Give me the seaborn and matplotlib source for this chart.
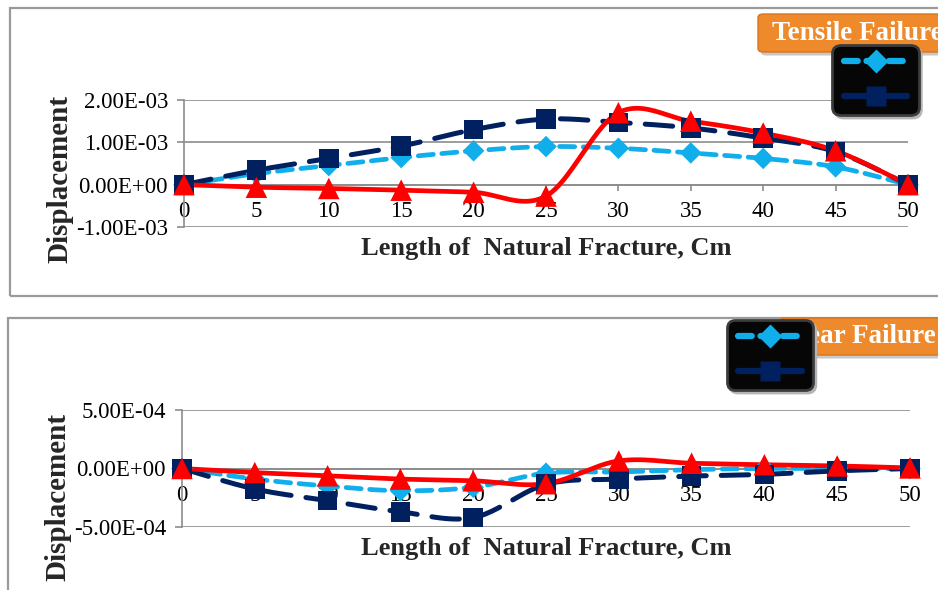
import numpy as np
import pandas as pd
import matplotlib
matplotlib.use("Agg")
import matplotlib.pyplot as plt
from matplotlib.patches import FancyBboxPatch, Rectangle
from matplotlib.lines import Line2D
from matplotlib.ticker import FuncFormatter, MultipleLocator
import seaborn as sns

# ---- data -------------------------------------------------------------
length_cm = [0, 5, 10, 15, 20, 25, 30, 35, 40, 45, 50]

# Tensile failure panel
tensile_a = [0.0, 0.26e-3, 0.45e-3, 0.64e-3, 0.80e-3, 0.90e-3, 0.86e-3, 0.75e-3, 0.62e-3, 0.42e-3, 0.0]
tensile_b = [0.0, 0.34e-3, 0.62e-3, 0.91e-3, 1.30e-3, 1.55e-3, 1.47e-3, 1.34e-3, 1.10e-3, 0.78e-3, 0.0]
tensile_c = [0.0, -0.06e-3, -0.09e-3, -0.13e-3, -0.18e-3, -0.27e-3, 1.70e-3, 1.50e-3, 1.22e-3, 0.80e-3, 0.0]

# Shear failure panel
shear_a = [0.0, -0.9e-4, -1.5e-4, -1.9e-4, -1.6e-4, -0.4e-4, -0.3e-4, -0.1e-4, 0.0, 0.0, 0.0]
shear_b = [0.0, -1.75e-4, -2.75e-4, -3.7e-4, -4.2e-4, -1.35e-4, -0.9e-4, -0.65e-4, -0.5e-4, -0.2e-4, 0.0]
shear_c = [0.0, -0.35e-4, -0.62e-4, -0.9e-4, -1.05e-4, -1.3e-4, 0.65e-4, 0.45e-4, 0.32e-4, 0.22e-4, 0.05e-4]

panel_titles = ["Tensile Failure", "Shear Failure"]
x_label = "Length of  Natural Fracture, Cm"
y_label = "Displacement"

LIGHT = "#10aeea"
NAVY = "#002060"
RED = "#ff0000"
GRID = "#8c8c8c"
SERIF = "Liberation Serif"

W, H = 938, 590
fig = plt.figure(figsize=(W / 100, H / 100), dpi=100)
sns.set_theme(style="white")
plt.rcParams["font.family"] = [SERIF, "DejaVu Serif"]


def px_rect(x0, y0, x1, y1):
    """figure-fraction rect from pixel box (top-left origin)."""
    return [x0 / W, 1 - y1 / H, (x1 - x0) / W, (y1 - y0) / H]


def smooth(x, y, n=24):
    """Catmull-Rom style smoothed path through the points (chart 'smoothed line')."""
    x = np.asarray(x, float)
    y = np.asarray(y, float)
    px, py = [], []
    for i in range(len(x) - 1):
        p0 = (x[i - 1], y[i - 1]) if i > 0 else (x[i], y[i])
        p1 = (x[i], y[i])
        p2 = (x[i + 1], y[i + 1])
        p3 = (x[i + 2], y[i + 2]) if i + 2 < len(x) else (x[i + 1], y[i + 1])
        c1 = (p1[0] + (p2[0] - p0[0]) / 6, p1[1] + (p2[1] - p0[1]) / 6)
        c2 = (p2[0] - (p3[0] - p1[0]) / 6, p2[1] - (p3[1] - p1[1]) / 6)
        t = np.linspace(0, 1, n, endpoint=(i == len(x) - 2))
        b0, b1, b2, b3 = (1 - t) ** 3, 3 * (1 - t) ** 2 * t, 3 * (1 - t) * t ** 2, t ** 3
        px.append(b0 * p1[0] + b1 * c1[0] + b2 * c2[0] + b3 * p2[0])
        py.append(b0 * p1[1] + b1 * c1[1] + b2 * c2[1] + b3 * p2[1])
    return np.concatenate(px), np.concatenate(py)


def panel_frame(x0, y0, x1, y1):
    fig.patches.append(Rectangle((x0 / W, 1 - y1 / H), (x1 - x0) / W, (y1 - y0) / H,
                                 transform=fig.transFigure, fill=False,
                                 edgecolor="#9a9a9a", lw=1.6, zorder=0))


def orange_title(x0, y0, x1, y1, text, tx):
    # soft drop shadow
    sh = FancyBboxPatch((x0 / W + 0.003, 1 - y1 / H - 0.006), (x1 - x0) / W, (y1 - y0) / H,
                        boxstyle="round,pad=0,rounding_size=0.006", transform=fig.transFigure,
                        facecolor="#c8c8c8", edgecolor="none", zorder=5)
    fig.patches.append(sh)
    box = FancyBboxPatch((x0 / W, 1 - y1 / H), (x1 - x0) / W, (y1 - y0) / H,
                         boxstyle="round,pad=0,rounding_size=0.006", transform=fig.transFigure,
                         facecolor="#ee8a2c", edgecolor="#d8741c", lw=1.0, zorder=6)
    fig.patches.append(box)
    grad_ax = fig.add_axes(px_rect(x0, y0, x1, y1), zorder=6)
    grad_ax.set_axis_off()
    g = np.linspace(0, 1, 64)[:, None]
    cmap = matplotlib.colors.LinearSegmentedColormap.from_list(
        "org", ["#fbb46a", "#f39a40", "#e9801f", "#d8701a"])
    im = grad_ax.imshow(g, aspect="auto", cmap=cmap, extent=[0, 1, 0, 1], origin="upper")
    clip = FancyBboxPatch((0, 0), 1, 1, boxstyle="round,pad=0,rounding_size=0.04",
                          transform=grad_ax.transAxes, facecolor="none", edgecolor="none")
    grad_ax.add_patch(clip)
    im.set_clip_path(clip)
    fig.text(tx / W, 1 - (y0 + y1) / 2 / H, text, color="white", fontsize=19.5,
             fontweight="bold", ha="left", va="center", family=SERIF, zorder=7)


def draw_panel(ax, ya, yb, yc, ylim, step):
    # smoothed curves
    for ys, col, ls, lw in ((ya, LIGHT, (0, (3.2, 1.8)), 3.4),
                            (yb, NAVY, (0, (5.5, 3.0)), 3.6),
                            (yc, RED, "-", 3.4)):
        sx, sy = smooth(length_cm, ys)
        sns.lineplot(x=sx, y=sy, ax=ax, color=col, linestyle=ls, lw=lw, sort=False,
                     estimator=None, zorder=3, solid_capstyle="round", dash_capstyle="round")
    df = pd.DataFrame({"x": length_cm, "a": ya, "b": yb, "c": yc})
    sns.scatterplot(data=df, x="x", y="a", ax=ax, marker="D", s=120, color=LIGHT,
                    edgecolor="none", zorder=4, clip_on=False)
    sns.scatterplot(data=df, x="x", y="b", ax=ax, marker="s", s=200, color=NAVY,
                    edgecolor="none", zorder=5, clip_on=False)
    sns.scatterplot(data=df, x="x", y="c", ax=ax, marker="^", s=240, color=RED,
                    edgecolor="none", zorder=6, clip_on=False)

    ax.set_xlim(0, 50)
    ax.set_ylim(*ylim)
    ax.yaxis.set_major_locator(MultipleLocator(step))
    ax.yaxis.set_major_formatter(FuncFormatter(lambda v, p: f"{v:.2E}"))
    ax.set_xticks(length_cm)
    ax.grid(axis="y", color=GRID, lw=1.2)
    ax.grid(axis="x", visible=False)
    for s in ("top", "right"):
        ax.spines[s].set_visible(False)
    ax.spines["left"].set_color(GRID)
    ax.spines["left"].set_linewidth(1.2)
    ax.spines["bottom"].set_position(("data", 0))
    ax.spines["bottom"].set_color(GRID)
    ax.spines["bottom"].set_linewidth(1.2)
    ax.spines["bottom"].set_zorder(2)
    ax.tick_params(axis="y", left=True, direction="out", length=5, width=1.2,
                   color=GRID, labelsize=16.5, pad=6.5, labelcolor="black")
    ax.tick_params(axis="x", bottom=True, direction="out", length=4, width=1.2,
                   color=GRID, labelsize=16.5, pad=8, labelcolor="black")
    for lab in ax.get_xticklabels() + ax.get_yticklabels():
        lab.set_family(SERIF)
    ax.set_xlabel("")
    ax.set_ylabel("")
    ax.set_facecolor("none")


def legend_box(x0, y0, x1, y1):
    handles = [Line2D([], [], color=LIGHT, lw=4.5, linestyle=(0, (2.2, 1.4)), marker="D",
                      markersize=12, markeredgecolor="none", dash_capstyle="round"),
               Line2D([], [], color=NAVY, lw=4.5, linestyle="-", marker="s",
                      markersize=14, markeredgecolor="none")]
    leg = fig.legend(handles, ["", ""], loc="center",
                     bbox_to_anchor=((x0 + x1) / 2 / W, 1 - (y0 + y1) / 2 / H),
                     bbox_transform=fig.transFigure, frameon=True, fancybox=True,
                     shadow={"color": "#b5b5b5", "alpha": 1.0}, handlelength=4.6,
                     handletextpad=0, labelspacing=1.6, borderpad=0.8, borderaxespad=0,
                     fontsize=10)
    fr = leg.get_frame()
    fr.set_facecolor("#060606")
    fr.set_edgecolor("#3c3c3c")
    fr.set_linewidth(2.0)
    fr.set_boxstyle("round,pad=0,rounding_size=0.6")
    leg.set_zorder(20)
    return leg


# ---- top panel --------------------------------------------------------
panel_frame(10, 8, 960, 296)
ax1 = fig.add_axes(px_rect(184, 100, 908, 227))
draw_panel(ax1, tensile_a, tensile_b, tensile_c, (-1e-3, 2e-3), 1e-3)
fig.text(546 / W, 1 - 249 / H, x_label, ha="center", va="center", fontsize=19,
         fontweight="bold", family=SERIF)
fig.text(60 / W, 1 - 179 / H, y_label, ha="center", va="center", rotation=90,
         fontsize=21, fontweight="bold", family=SERIF)
orange_title(758, 14, 960, 52, panel_titles[0], 772)
legend_box(833, 42, 918, 118)

# ---- bottom panel -----------------------------------------------------
panel_frame(8, 318, 960, 620)
ax2 = fig.add_axes(px_rect(182, 410, 910, 527))
draw_panel(ax2, shear_a, shear_b, shear_c, (-5e-4, 5e-4), 5e-4)
fig.text(546 / W, 1 - 548 / H, x_label, ha="center", va="center", fontsize=19,
         fontweight="bold", family=SERIF)
fig.text(58 / W, 1 - 497 / H, y_label, ha="center", va="center", rotation=90,
         fontsize=21, fontweight="bold", family=SERIF)
orange_title(780, 318, 960, 355, panel_titles[1], 778)
legend_box(725, 318, 815, 392)

fig.savefig("out.png", dpi=100, facecolor="white")
